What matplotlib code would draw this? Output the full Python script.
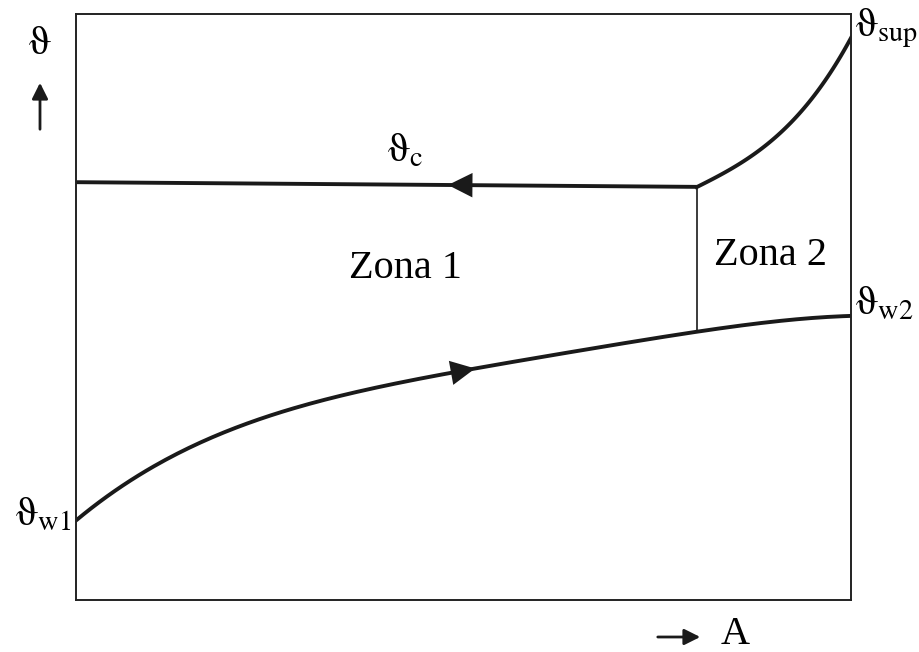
import numpy as np
import matplotlib
matplotlib.use("Agg")
import matplotlib.pyplot as plt
from matplotlib.patches import FancyArrowPatch

plt.rcParams['mathtext.fontset'] = 'stix'
plt.rcParams['font.family'] = ['Liberation Serif', 'DejaVu Serif']

# Data (normalised area A on x, temperature on y)
upper_x = [0.0, 0.801, 0.844, 0.888, 0.933, 0.975, 1.0]
upper_y = [0.713, 0.705, 0.734, 0.773, 0.833, 0.899, 0.961]
lower_x = [0.0, 0.031, 0.095, 0.16, 0.289, 0.418, 0.489, 0.612, 0.801, 1.0]
lower_y = [0.133, 0.171, 0.225, 0.268, 0.328, 0.372, 0.389, 0.418, 0.457, 0.485]
zone_boundary_x = 0.801

fig = plt.figure(figsize=(9.19, 6.52), dpi=100)
ax = fig.add_axes([76/919, 52/652, 775/919, 586/652])
ax.set_xlim(0, 1)
ax.set_ylim(0, 1)
ax.set_xticks([])
ax.set_yticks([])
for s in ax.spines.values():
    s.set_linewidth(1.4)
    s.set_color('#222222')

lw = 2.8
col = '#1a1a1a'
ux = np.array(upper_x); uy = np.array(upper_y)
ax.plot(ux[:2], uy[:2], color=col, lw=lw, solid_capstyle='butt')
cx = np.linspace(ux[1], ux[-1], 60)
cc = np.polyfit(ux[1:], uy[1:], 3)
ax.plot(cx, np.polyval(cc, cx), color=col, lw=lw)

lx = np.array(lower_x); ly = np.array(lower_y)
lcx = np.linspace(0, 1, 200)
lc = np.polyfit(lx, ly, 4)
ax.plot(lcx, np.polyval(lc, lcx), color=col, lw=lw)

# zone boundary
yb_low = np.polyval(lc, zone_boundary_x)
yb_up = np.interp(zone_boundary_x, ux, uy)
ax.plot([zone_boundary_x, zone_boundary_x], [yb_low, yb_up], color=col, lw=1.2)

# direction arrows on curves
def arrow(x0, x1, yfun):
    a = FancyArrowPatch((x0, yfun(x0)), (x1, yfun(x1)), arrowstyle='-|>',
                        mutation_scale=44, color=col, lw=0, shrinkA=0, shrinkB=0)
    ax.add_patch(a)

arrow(0.53, 0.48, lambda x: np.interp(x, ux, uy))
arrow(0.465, 0.515, lambda x: np.polyval(lc, x))

ts = 29
th = r'\mathrm{\vartheta}'
ax.text(0.425, 0.765, rf'${th}_{{\mathrm{{c}}}}$', fontsize=ts, ha='center', va='center')
ax.text(0.425, 0.565, 'Zona 1', fontsize=ts, ha='center', va='center')
ax.text(0.896, 0.588, 'Zona 2', fontsize=ts, ha='center', va='center')
ax.text(1.005, 0.975, rf'${th}_{{\mathrm{{sup}}}}$', fontsize=ts, ha='left', va='center')
ax.text(1.005, 0.505, rf'${th}_{{\mathrm{{w2}}}}$', fontsize=ts, ha='left', va='center')
ax.text(-0.006, 0.145, rf'${th}_{{\mathrm{{w1}}}}$', fontsize=ts, ha='right', va='center')

# axis indicator labels
fig.text(40/919, 1 - 45/652, rf'${th}$', fontsize=ts, ha='center', va='center')
fig.add_artist(FancyArrowPatch((40/919, 1 - 132/652), (40/919, 1 - 80/652),
                               transform=fig.transFigure, arrowstyle='-|>',
                               mutation_scale=24, color=col, lw=2.0))
fig.add_artist(FancyArrowPatch((655/919, 1 - 637/652), (703/919, 1 - 637/652),
                               transform=fig.transFigure, arrowstyle='-|>',
                               mutation_scale=24, color=col, lw=2.0))
fig.text(735/919, 1 - 635/652, 'A', fontsize=ts, ha='center', va='center')

fig.savefig('out.png', dpi=100)
